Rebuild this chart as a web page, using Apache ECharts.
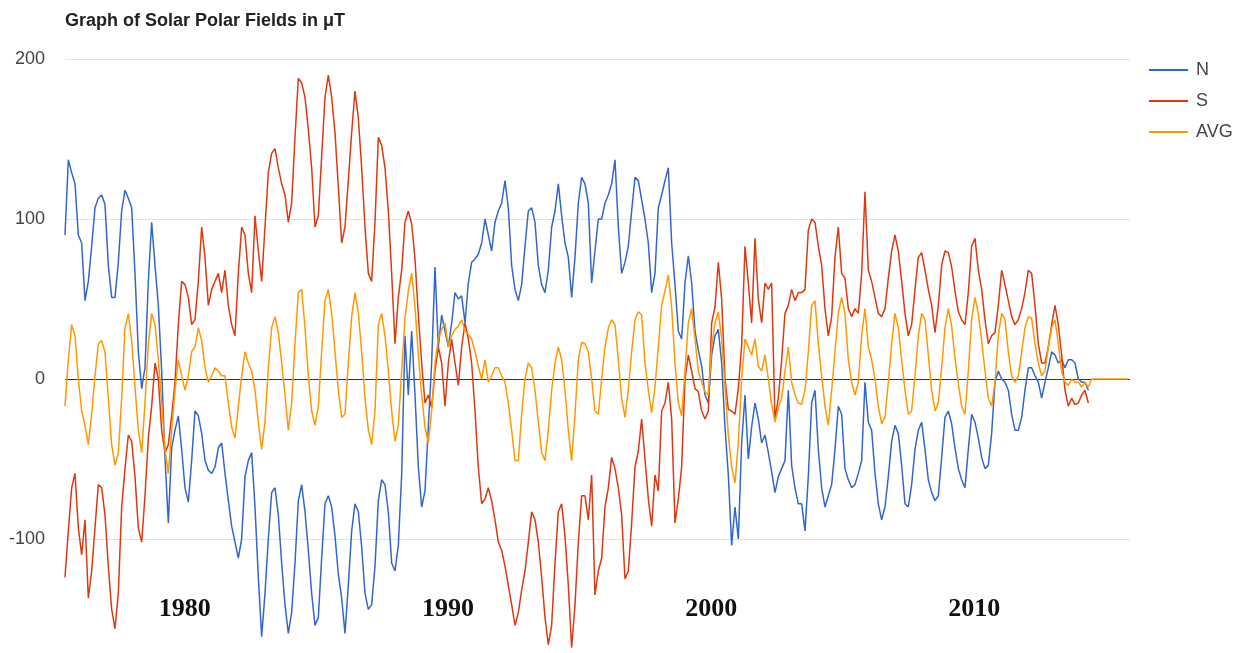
<!DOCTYPE html>
<html><head><meta charset="utf-8">
<script src="https://cdn.jsdelivr.net/npm/echarts@6/dist/echarts.min.js"></script>
<style>html,body{margin:0;padding:0;background:#fff}#c{width:1251px;height:653px}</style>
</head><body><div id="c"></div>
<script>
const TITLE = 'Graph of Solar Polar Fields in μT';
const START_YEAR = 1975.45;
const STEP_YEARS = 0.126646;
const X_MIN = 1975.45, X_MAX = 2015.914;
const YEAR_TICKS = [1980, 1990, 2000, 2010];
const Y_MIN = -171.25, Y_MAX = 200;
const Y_TICKS = [-100, 0, 100, 200];
const SERIES_NAMES = ['N', 'S', 'AVG'];

const N = [
90,137,129,122,90,85,49,61,83,107,
113,115,109,71,51,51,73,105,118,113,
107,66,17,-6,7,61,98,71,46,5,
-49,-90,-43,-32,-23,-44,-68,-77,-51,-20,
-23,-34,-51,-57,-59,-55,-43,-40,-59,-76,
-92,-102,-112,-100,-61,-51,-46,-80,-124,-161,
-134,-100,-71,-68,-85,-115,-141,-159,-146,-115,
-76,-66,-83,-107,-134,-154,-149,-112,-78,-73,
-80,-98,-122,-137,-159,-129,-95,-78,-83,-105,
-134,-144,-141,-117,-76,-63,-66,-83,-115,-120,
-104,-60,27,-10,30,-10,-55,-80,-70,-30,
10,70,20,40,30,20,35,54,50,52,
35,60,73,75,78,85,100,90,80,98,
105,110,124,107,71,56,49,59,83,105,
107,98,71,59,54,68,95,105,122,102,
85,76,51,76,110,126,122,110,60,80,
100,100,110,115,122,137,95,66,73,83,
105,126,124,112,100,85,54,66,107,115,
124,132,85,59,30,25,60,77,60,30,
18,8,-10,-15,15,27,31,10,-30,-60,
-104,-80,-100,-40,-10,-50,-30,-15,-25,-40,
-35,-46,-58,-71,-61,-56,-51,-7,-54,-68,
-78,-78,-95,-61,-15,-7,-44,-68,-80,-73,
-66,-44,-17,-22,-56,-63,-68,-66,-59,-51,
-2,-27,-32,-59,-78,-88,-80,-61,-39,-29,
-34,-54,-78,-80,-66,-44,-32,-27,-44,-63,
-71,-76,-73,-49,-24,-20,-28,-43,-56,-63,
-68,-44,-22,-27,-37,-49,-56,-54,-34,-2,
5,0,-2,-7,-22,-32,-32,-24,-7,7,
7,2,-2,-12,-2,7,17,15,10,12,
7,12,12,10,0,-2,-2,-7
];

const S = [
-124,-95,-68,-59,-93,-110,-88,-137,-120,-93,
-66,-68,-85,-117,-144,-156,-134,-80,-56,-35,
-39,-61,-93,-102,-73,-37,-17,10,0,-32,
-46,-41,-23,-2,34,61,59,51,34,37,
61,95,76,46,56,61,66,54,68,46,
34,27,66,95,90,66,54,102,80,61,
95,129,141,144,132,122,115,98,110,151,
188,185,176,156,132,95,102,139,176,190,
176,154,120,85,95,124,154,180,163,132,
95,66,61,98,151,146,132,105,66,22,
51,68,98,105,97,75,40,10,-15,-10,
-18,5,20,10,-17,10,25,10,-4,20,
35,25,10,-20,-55,-78,-75,-68,-76,-88,
-102,-107,-117,-129,-141,-154,-146,-132,-120,-102,
-83,-88,-102,-124,-149,-166,-154,-115,-83,-78,
-98,-129,-168,-141,-102,-73,-73,-88,-60,-135,
-120,-112,-80,-68,-49,-56,-68,-85,-125,-120,
-90,-55,-45,-25,-50,-75,-92,-60,-70,-20,
-15,-2,-25,-90,-75,-55,0,15,5,-6,
-8,-20,-25,-20,35,45,73,50,0,-19,
-20,-22,-6,21,83,60,35,88,50,35,
60,56,60,-25,-12,12,41,46,56,49,
54,54,56,93,100,98,83,71,44,27,
39,76,95,66,63,44,39,44,41,66,
117,68,61,51,41,39,44,63,80,90,
80,61,41,27,34,56,76,79,68,56,
46,29,46,71,80,79,70,55,42,37,
34,54,83,88,68,56,37,22,27,29,
46,68,59,49,39,34,37,44,54,68,
66,46,22,10,10,20,34,46,34,15,
-7,-17,-12,-16,-15,-10,-7,-15
];

const AVG = [
-17,12,34,27,0,-20,-29,-41,-22,2,
22,24,17,-12,-41,-54,-46,-12,32,41,
24,-5,-32,-46,-15,22,41,34,12,-15,
-44,-59,-32,-7,12,2,-7,2,17,20,
32,24,7,-2,2,7,5,2,2,-15,
-30,-37,-17,2,17,10,5,-7,-27,-44,
-27,7,32,39,29,10,-10,-32,-15,22,
54,56,32,2,-20,-29,-17,17,49,56,
41,17,-7,-24,-22,10,39,54,41,17,
-12,-32,-41,-20,34,41,27,5,-20,-39,
-29,5,38,55,66,45,15,-10,-30,-40,
-20,10,25,31,35,20,27,31,33,37,
30,28,25,17,8,0,12,-2,2,7,
7,2,-2,-15,-32,-51,-51,-22,0,10,
7,-7,-27,-46,-51,-32,-7,10,20,12,
-7,-32,-51,-22,12,23,22,17,0,-20,
-22,0,20,32,37,34,12,-12,-24,-7,
17,37,42,40,10,-7,-21,-5,20,46,
55,65,45,10,-15,-23,5,35,44,25,
5,-2,-8,-10,20,35,42,25,-5,-35,
-55,-65,-40,0,25,20,15,25,8,5,
15,0,-16,-27,-18,-12,5,20,-2,-10,
-15,-16,-7,17,46,49,22,2,-17,-29,
-7,17,41,51,41,12,-2,-10,-2,27,
44,20,12,0,-17,-28,-24,-2,22,41,
32,12,-7,-22,-20,2,27,41,37,15,
-7,-20,-15,7,32,44,33,13,-3,-17,
-22,5,37,51,41,24,5,-12,-17,-2,
27,41,37,17,2,-2,2,17,32,39,
38,22,10,2,5,20,32,37,22,5,
-2,-4,0,-2,-2,-5,-2,-5,0,0,
0,0,0,0,0,0,0,0,0,0
];

const COLORS = { N: '#3366cc', S: '#dc3912', AVG: '#ff9900' };

function toPairs(arr) {
  return arr.map((v, i) => [START_YEAR + i * STEP_YEARS, v]);
}

const chart = echarts.init(document.getElementById('c'), null, { renderer: 'canvas' });
const SANS = '"Liberation Sans", Arial, sans-serif';

function lineSeries(name, arr) {
  return {
    name: name,
    type: 'line',
    data: toPairs(arr),
    symbol: 'none',
    showSymbol: false,
    smooth: false,
    lineStyle: { color: COLORS[name], width: 1.5 },
    itemStyle: { color: COLORS[name] },
    emphasis: { disabled: true },
    z: 3
  };
}

chart.setOption({
  animation: false,
  backgroundColor: '#ffffff',
  title: {
    text: TITLE,
    left: 65,
    top: 12,
    padding: 0,
    textStyle: { fontFamily: SANS, fontSize: 18, fontWeight: 'bold', color: '#222' }
  },
  legend: {
    orient: 'vertical',
    left: 1149,
    top: 61,
    padding: 0,
    icon: 'rect',
    itemWidth: 39,
    itemHeight: 2,
    itemGap: 13,
    data: SERIES_NAMES,
    textStyle: { fontFamily: SANS, fontSize: 18, color: '#444', padding: [0, 0, 0, 3] }
  },
  grid: { left: 65, top: 59, width: 1065, height: 594, containLabel: false },
  xAxis: {
    type: 'value',
    min: X_MIN,
    max: X_MAX,
    axisLine: { show: false },
    axisTick: { show: false },
    splitLine: { show: false },
    axisLabel: {
      inside: true,
      margin: 31,
      customValues: YEAR_TICKS,
      formatter: v => String(Math.round(v)),
      fontFamily: '"Liberation Serif", "Times New Roman", serif',
      fontWeight: 'bold',
      fontSize: 26,
      color: '#111'
    }
  },
  yAxis: {
    type: 'value',
    min: Y_MIN,
    max: Y_MAX,
    axisLine: { show: false },
    axisTick: { show: false, customValues: Y_TICKS },
    axisLabel: { margin: 20, customValues: Y_TICKS, fontFamily: SANS, fontSize: 18, color: '#444' },
    splitLine: { lineStyle: { color: ['#e2e2e2', '#333333', '#e2e2e2', '#e2e2e2'], width: 1 } }
  },
  series: [
    lineSeries('N', N),
    lineSeries('S', S),
    lineSeries('AVG', AVG)
  ]
});
</script>
</body></html>
